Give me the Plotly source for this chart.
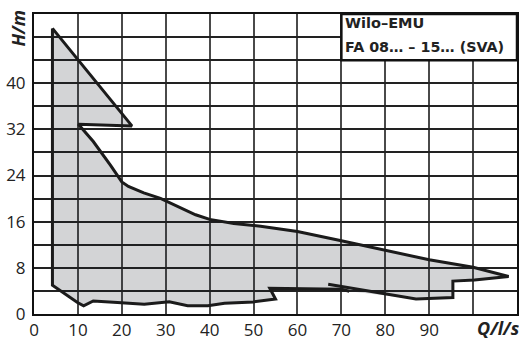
import plotly.graph_objects as go

# ---- data (Q in l/s, H in m) ----
top_edge_q = [4.2, 22.3, 10.1, 13.5, 17.4, 20.0, 21.5, 25.0, 28.8, 33.3, 35.0, 36.8, 40.0, 45.5, 51.6, 60.0, 70.0, 80.0, 90.0, 100.0, 108.1]
top_edge_h = [49.5, 32.6, 32.9, 29.9, 25.8, 22.9, 22.1, 21.0, 20.05, 18.5, 17.9, 17.2, 16.4, 15.7, 15.2, 14.3, 12.7, 11.1, 9.4, 8.1, 6.5]

right_lower_q = [100.3, 95.4, 95.4, 87.0, 67.0]
right_lower_h = [5.9, 5.7, 2.85, 2.6, 5.15]

left_lower_q = [71.8, 70.1, 53.7, 55.0, 50.0, 43.4, 39.6, 35.0, 30.8, 25.1, 19.0, 13.5, 11.3, 9.9, 4.2]
left_lower_h = [3.95, 4.3, 4.45, 2.6, 2.1, 1.85, 1.45, 1.45, 2.1, 1.7, 2.0, 2.25, 1.4, 2.0, 5.0]

x_tick_vals = [0, 10, 20, 30, 40, 50, 60, 70, 80, 90, 100, 110]
x_tick_text = ["0", "10", "20", "30", "40", "50", "60", "70", "80", "90", "", ""]
y_tick_vals = [0, 4, 8, 12, 16, 20, 24, 28, 32, 36, 40, 44, 48, 52]
y_tick_text = ["0", "", "8", "", "16", "", "24", "", "32", "", "40", "", "", ""]

title_lines = ["Wilo–EMU", "FA 08… – 15… (SVA)"]
x_label = "Q/l/s"
y_label = "H/m"

FONT = "Open Sans"
BOXFONT = "DejaVu Sans"
LINE = "#1b1b1b"

fig = go.Figure()

# filled operating range
fill_q = top_edge_q + right_lower_q[:-1] + left_lower_q
fill_h = top_edge_h + right_lower_h[:-1] + left_lower_h
fig.add_trace(go.Scatter(x=fill_q, y=fill_h, mode="lines", fill="toself",
                         fillcolor="rgba(20,25,35,0.19)", line=dict(width=0),
                         hoverinfo="skip", showlegend=False))

# outline
out_q = top_edge_q + right_lower_q + [None] + left_lower_q + [top_edge_q[0]]
out_h = top_edge_h + right_lower_h + [None] + left_lower_h + [top_edge_h[0]]
fig.add_trace(go.Scatter(x=out_q, y=out_h, mode="lines",
                         line=dict(color=LINE, width=3, shape="linear"),
                         connectgaps=False, hoverinfo="skip", showlegend=False))

fig.update_layout(
    width=519, height=338,
    margin=dict(l=34, r=2, t=14, b=24),
    paper_bgcolor="white", plot_bgcolor="white",
    font=dict(family=FONT, size=17, color="#222"),
    xaxis=dict(range=[0, 110], tickvals=x_tick_vals, ticktext=x_tick_text,
               showgrid=True, gridcolor="#4a4a4a", gridwidth=1.5, automargin=False,
               zeroline=False, showline=True, mirror=True, linecolor="#111", linewidth=2,
               ticks="", ticklabelstandoff=0, tickfont=dict(size=17, family=FONT, color="#222")),
    yaxis=dict(range=[0, 52], tickvals=y_tick_vals, ticktext=y_tick_text,
               showgrid=True, gridcolor="#222", gridwidth=1.5, automargin=False,
               zeroline=False, showline=True, mirror=True, linecolor="#111", linewidth=2,
               ticks="", ticklabelstandoff=3, tickfont=dict(size=17, family=FONT, color="#222")),
)

# title box in the top-right corner
fig.add_shape(type="rect", xref="x", yref="y", x0=70, x1=110, y0=44, y1=52,
              fillcolor="white", line=dict(color="#111", width=2.5), layer="above")
fig.add_annotation(xref="x", yref="y", x=70, y=50.4, xanchor="left", yanchor="middle",
                   xshift=2, text="<b>" + title_lines[0] + "</b>", showarrow=False,
                   font=dict(family=BOXFONT, size=14.5, color="#222"))
fig.add_annotation(xref="x", yref="y", x=70, y=46.3, xanchor="left", yanchor="middle",
                   xshift=2, text="<b>" + title_lines[1] + "</b>", showarrow=False,
                   font=dict(family=BOXFONT, size=14.3, color="#222"))

# axis labels
fig.add_annotation(xref="x", yref="paper", x=105.8, y=0, xanchor="center", yanchor="top",
                   yshift=0, text="<b><i>" + x_label + "</i></b>", showarrow=False,
                   font=dict(family=FONT, size=18, color="#222"))
fig.add_annotation(xref="paper", yref="y", x=-0.033, y=49.5, xanchor="center", yanchor="middle",
                   textangle=-90, text="<b><i>" + y_label + "</i></b>", showarrow=False,
                   font=dict(family=FONT, size=18, color="#222"))

fig.write_html("out.html", config={"displayModeBar": False},
               post_script="document.body.style.margin='0';document.body.style.overflow='hidden';")
